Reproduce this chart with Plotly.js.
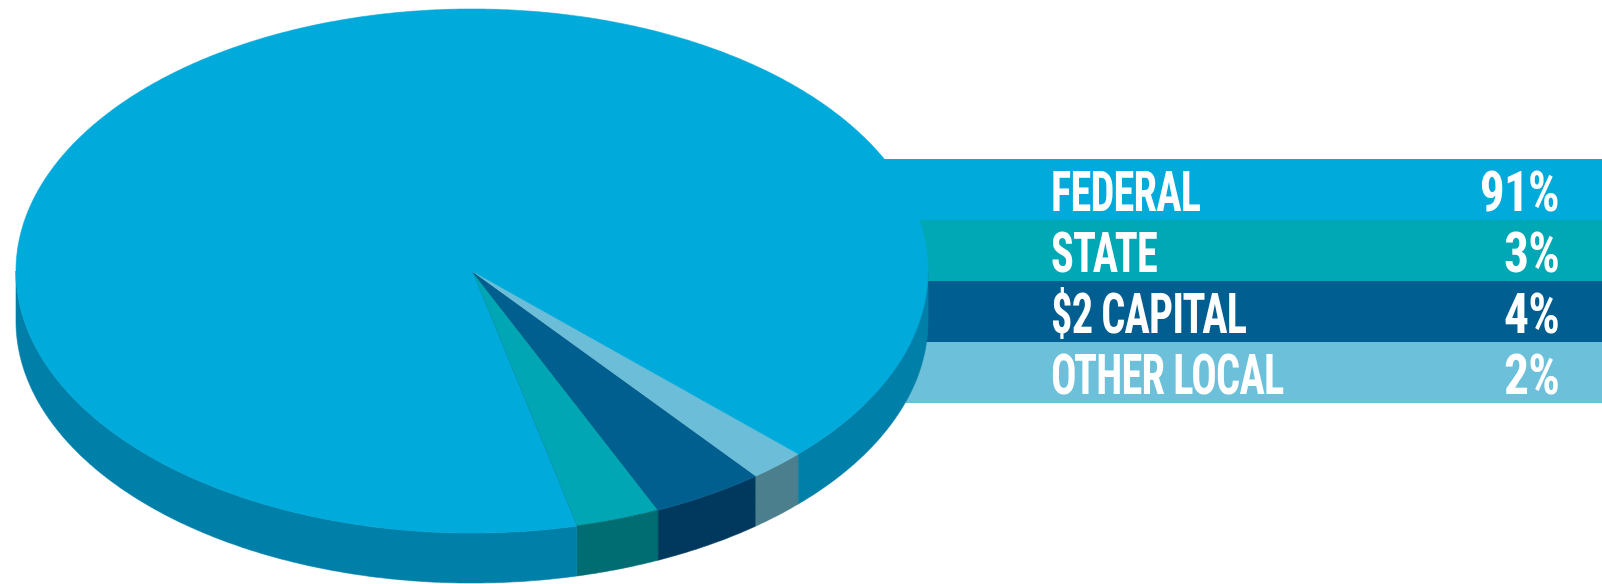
<!DOCTYPE html>
<html>
<head>
<meta charset="utf-8">
<script src="https://cdn.plot.ly/plotly-3.0.1.min.js"></script>
<style>
  html, body { margin: 0; padding: 0; background: #ffffff; }
  #chart { width: 1602px; height: 584px; }
  text { font-stretch: 75%; letter-spacing: -1px; }
  .annotation[data-index="0"] text, .annotation[data-index="1"] text,
  .annotation[data-index="2"] text, .annotation[data-index="3"] text {
    transform-box: fill-box; transform-origin: 0% 50%; transform: scaleX(0.77);
  }
  .annotation[data-index="4"] text, .annotation[data-index="5"] text,
  .annotation[data-index="6"] text, .annotation[data-index="7"] text {
    transform-box: fill-box; transform-origin: 100% 50%; transform: scaleX(0.9);
  }
</style>
</head>
<body>
<div id="chart"></div>
<script>
// ---- data ----
const categories = ['FEDERAL', 'STATE', '$2 CAPITAL', 'OTHER LOCAL'];
const shares = [91, 3, 4, 2];
const shareLabels = ['91%', '3%', '4%', '2%'];

// ---- styles ----
const topColors  = ['#00AADB', '#00A6B4', '#005F8F', '#6CBED8'];
const sideColors = ['#0080A8', '#006D72', '#00395D', '#4B7F8E'];
const bandColors = ['#00AADB', '#00A8B5', '#005E91', '#6DC0D9'];
const sliceOrder = [1, 2, 3, 0];   // drawing order starting at the front

// ---- geometry ----
const W = 1602, H = 584;
const CX = 472, CY = 271, RX = 456, RY = 262, DEPTH = 50, START = 76.7;
const BAND_X0 = 700, BAND_TOP = 159, BAND_H = 61;

function pt(tDeg, dy) {
  const r = tDeg * Math.PI / 180;
  return [CX + RX * Math.cos(r), CY + RY * Math.sin(r) + (dy || 0)];
}
function arc(from, to, dy) {
  const n = Math.max(2, Math.ceil(Math.abs(to - from) / 0.5));
  const out = [];
  for (let i = 0; i <= n; i++) out.push(pt(from + (to - from) * i / n, dy));
  return out;
}

const sideTraces = [], topTraces = [];
let cur = START;
sliceOrder.forEach(k => {
  const span = shares[k] / 100 * 360;
  const hi = cur, lo = cur - span;
  cur = lo;
  const topPts = [[CX, CY]].concat(arc(hi, lo)).concat([[CX, CY]]);
  topTraces.push({
    type: 'scatter', mode: 'lines', fill: 'toself',
    x: topPts.map(p => p[0]), y: topPts.map(p => p[1]),
    fillcolor: topColors[k],
    line: { color: k === 1 ? '#0B6E72' : topColors[k], width: k === 1 ? 1 : 0.6, simplify: false },
    hoverinfo: 'skip', name: categories[k]
  });
  const xs = [], ys = [];
  for (let m = -2; m <= 1; m++) {
    const s = Math.max(lo, 360 * m), e = Math.min(hi, 360 * m + 180);
    if (e > s) {
      const poly = arc(s, e, 0).concat(arc(e, s, DEPTH));
      poly.push(poly[0]);
      if (xs.length) { xs.push(null); ys.push(null); }
      poly.forEach(p => { xs.push(p[0]); ys.push(p[1]); });
    }
  }
  if (xs.length) {
    sideTraces.push({
      type: 'scatter', mode: 'lines', fill: 'toself', connectgaps: false,
      x: xs, y: ys, fillcolor: sideColors[k],
      line: { color: sideColors[k], width: 0.6, simplify: false },
      hoverinfo: 'skip', name: categories[k] + ' side'
    });
  }
});

const shapes = categories.map((c, i) => ({
  type: 'rect', layer: 'below', xref: 'x', yref: 'y',
  x0: BAND_X0, x1: W, y0: BAND_TOP + BAND_H * i, y1: BAND_TOP + BAND_H * (i + 1),
  fillcolor: bandColors[i], line: { width: 0 }
}));

const labelFont = { family: 'Roboto, "Open Sans", sans-serif', size: 55, color: '#ffffff', weight: 700 };
const annotations = [];
categories.forEach((c, i) => {
  annotations.push({
    xref: 'x', yref: 'y', x: 1049, y: BAND_TOP + BAND_H * (i + 0.5) + 2,
    xanchor: 'left', yanchor: 'middle', text: c,
    showarrow: false, font: labelFont
  });
});
shareLabels.forEach((s, i) => {
  annotations.push({
    xref: 'x', yref: 'y', x: 1561, y: BAND_TOP + BAND_H * (i + 0.5) + 2,
    xanchor: 'right', yanchor: 'middle', text: s,
    showarrow: false, font: labelFont
  });
});

const layout = {
  width: W, height: H,
  margin: { l: 0, r: 0, t: 0, b: 0, pad: 0 },
  paper_bgcolor: '#ffffff', plot_bgcolor: '#ffffff',
  showlegend: false,
  xaxis: { range: [0, W], visible: false, fixedrange: true },
  yaxis: { range: [H, 0], visible: false, fixedrange: true },
  shapes: shapes,
  annotations: annotations
};

Plotly.newPlot('chart', sideTraces.concat(topTraces), layout, { displayModeBar: false, staticPlot: true });
</script>
</body>
</html>
